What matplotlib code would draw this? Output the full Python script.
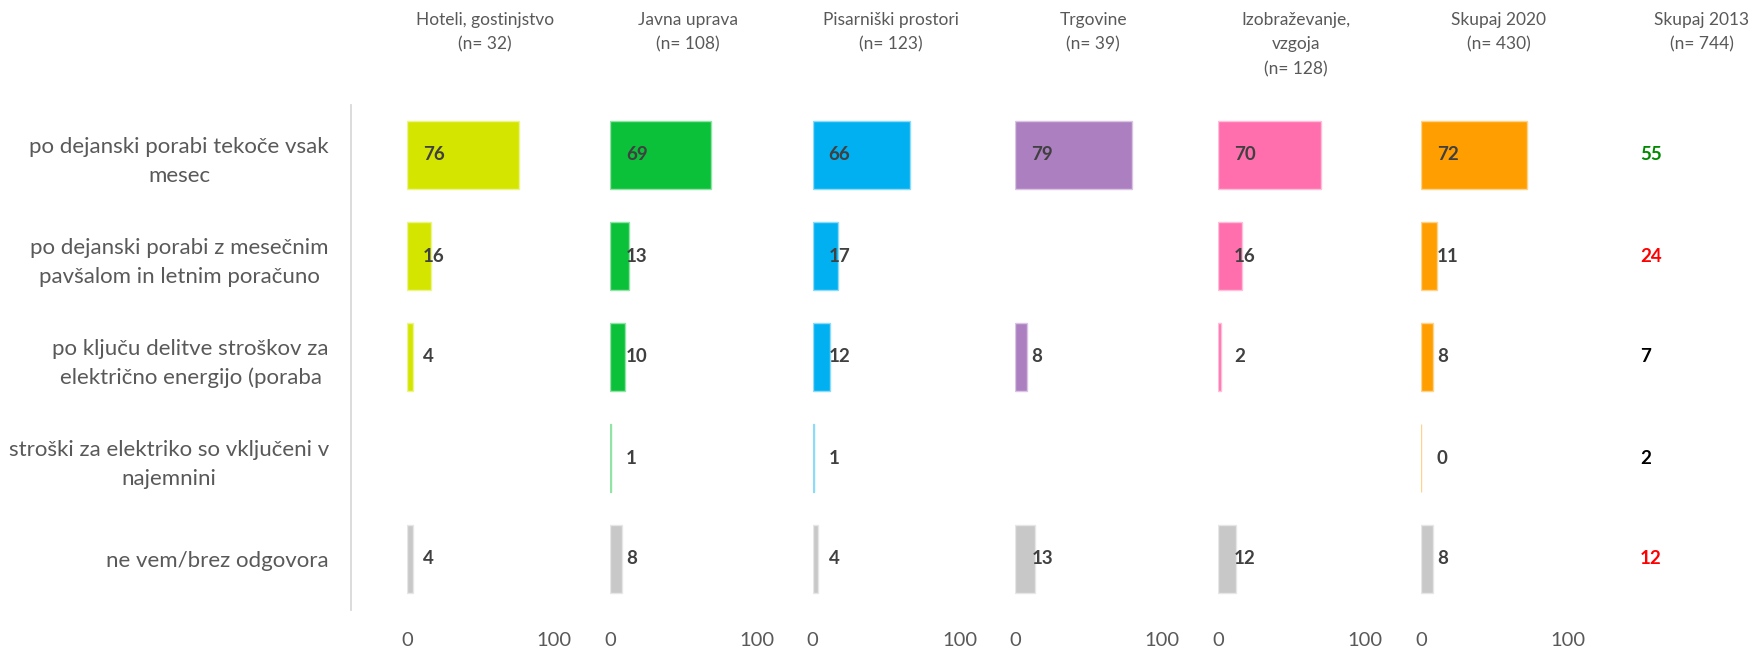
import numpy as np
import matplotlib
matplotlib.use("Agg")
import matplotlib.pyplot as plt
from matplotlib.transforms import blended_transform_factory
from matplotlib.colors import to_rgb

plt.rcParams['font.family'] = ['Lato', 'DejaVu Sans']

# ---------------- data ----------------
categories = [
    "po dejanski porabi tekoče vsak\nmesec",
    "po dejanski porabi z mesečnim\npavšalom in letnim poračuno",
    "po ključu delitve stroškov za\nelektrično energijo (poraba",
    "stroški za elektriko so vključeni v\nnajemnini",
    "ne vem/brez odgovora",
]
group_titles = [
    "Hoteli, gostinjstvo\n(n= 32)",
    "Javna uprava\n(n= 108)",
    "Pisarniški prostori\n(n= 123)",
    "Trgovine\n(n= 39)",
    "Izobraževanje,\nvzgoja\n(n= 128)",
    "Skupaj 2020\n(n= 430)",
]
title_2013 = "Skupaj 2013\n(n= 744)"

hoteli = [76, 16, 4, np.nan, 4]
javna_uprava = [69, 13, 10, 1, 8]
pisarniski = [66, 17, 12, 1, 4]
trgovine = [79, np.nan, 8, np.nan, 13]
izobrazevanje = [70, 16, 2, np.nan, 12]
skupaj_2020 = [72, 11, 8, 0, 8]
skupaj_2013 = [55, 24, 7, 2, 12]

group_values = [hoteli, javna_uprava, pisarniski, trgovine, izobrazevanje, skupaj_2020]
group_colors = ["#d4e600", "#0bc13a", "#00b0f0", "#ab7fc0", "#ff6fad", "#ff9e00"]
dont_know_color = "#c8c8c8"
colors_2013 = ["#008a00", "#ff0000", "#000000", "#000000", "#ff0000"]

xticks = [0, 100]

# ---------------- layout ----------------
W, H = 1752, 648
fig = plt.figure(figsize=(W / 100, H / 100), dpi=100)

zero0 = 407.0
step = 202.8
unit_w = 147.0          # pixels for 100 units
ax_top, ax_bot = 104.5, 609.5
n_rows = len(categories)

def add_panel(zero_px):
    return fig.add_axes([zero_px / W, (H - ax_bot) / H, unit_w / W, (ax_bot - ax_top) / H])

def lighten(c, f):
    r, g, b = to_rgb(c)
    return (r + (1 - r) * f, g + (1 - g) * f, b + (1 - b) * f)

label_color = "#404040"
text_gray = "#595959"
val_size = 13.5
head_size = 12.5

# left category axis (spine only)
axl = fig.add_axes([351 / W, (H - ax_bot) / H, (W - 351) / W, (ax_bot - ax_top) / H])
axl.set_xlim(0, 1)
axl.set_ylim(n_rows - 0.5, -0.5)
axl.set_yticks(range(n_rows))
axl.set_yticklabels(categories, fontsize=16, color=text_gray, multialignment="center",
                    linespacing=1.55)
axl.tick_params(axis="y", length=0, pad=16)
axl.set_xticks([])
for s in ["top", "right", "bottom"]:
    axl.spines[s].set_visible(False)
axl.spines["left"].set_color("#d9d9d9")
axl.spines["left"].set_linewidth(1.3)
axl.patch.set_visible(False)

y = np.arange(n_rows)
for i, (vals, col, title) in enumerate(zip(group_values, group_colors, group_titles)):
    ax = add_panel(zero0 + i * step)
    ax.set_xlim(0, 100)
    ax.set_ylim(n_rows - 0.5, -0.5)
    ax.patch.set_visible(False)
    for s in ax.spines.values():
        s.set_visible(False)
    ax.set_yticks([])
    ax.set_xticks(xticks)
    ax.tick_params(axis="x", length=0, pad=16, labelsize=14.5, labelcolor=text_gray)
    for j, v in enumerate(vals):
        if np.isnan(v):
            continue
        c = dont_know_color if j == n_rows - 1 else col
        ax.barh(y[j], v, height=0.67, color=c, edgecolor=lighten(c, 0.55), linewidth=1.0)
        ax.annotate(f"{v:g}", xy=(0, y[j]), xytext=(11.5, 0), textcoords="offset points",
                    ha="left", va="center", fontsize=val_size, fontweight="bold", color=label_color)
    tr = blended_transform_factory(ax.transData, fig.transFigure)
    ax.text(53, 1 - 12 / H, title, transform=tr, ha="center", va="top", fontsize=head_size,
            color=text_gray, linespacing=1.65, multialignment="center")

# Skupaj 2013 column
ax7 = add_panel(zero0 + 6 * step)
ax7.set_xlim(0, 100)
ax7.set_ylim(n_rows - 0.5, -0.5)
ax7.axis("off")
for j, v in enumerate(skupaj_2013):
    ax7.annotate(f"{v:g}", xy=(0, y[j]), xytext=(11.5, 0), textcoords="offset points",
                 ha="left", va="center", fontsize=val_size, fontweight="bold", color=colors_2013[j])
tr = blended_transform_factory(ax7.transData, fig.transFigure)
ax7.text(53, 1 - 12 / H, title_2013, transform=tr, ha="center", va="top", fontsize=head_size,
         color=text_gray, linespacing=1.65, multialignment="center")

fig.savefig("out.png", dpi=100, facecolor="white")
